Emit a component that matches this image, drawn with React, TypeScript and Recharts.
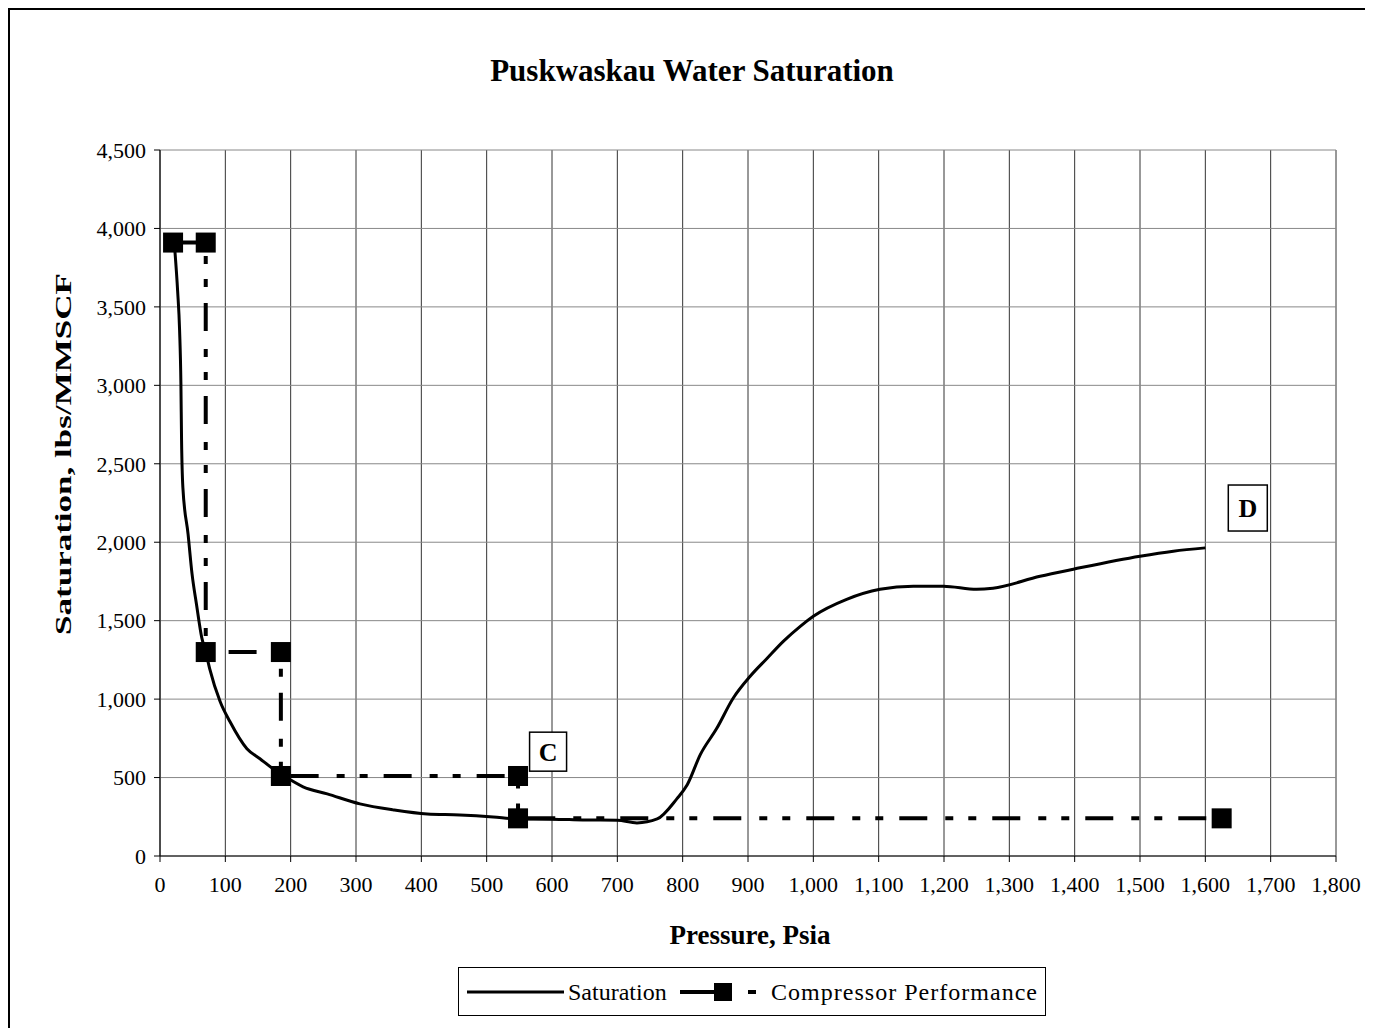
import { CartesianGrid, ComposedChart, Line, ReferenceDot, XAxis, YAxis } from "recharts"

const pressure = [22, 27, 30, 32, 33, 35, 43, 49, 56, 64, 70, 76, 92, 107, 133, 153, 173, 187, 219, 256, 306, 357, 409, 459, 510, 546, 600, 647, 700, 730, 761, 791, 807, 827, 852, 877, 903, 929, 954, 980, 1000, 1051, 1102, 1153, 1199, 1250, 1275, 1347, 1398, 1500, 1551, 1600]
const saturation = [3900, 3600, 3350, 3010, 2650, 2350, 2050, 1800, 1600, 1390, 1300, 1195, 985, 857, 684, 620, 556, 518, 441, 396, 332, 294, 268, 262, 249, 236, 235, 230, 228, 211, 236, 364, 454, 646, 812, 1004, 1144, 1259, 1368, 1464, 1528, 1636, 1700, 1720, 1720, 1700, 1707, 1783, 1828, 1911, 1943, 1964]

const compPressure = [20, 70, 70, 185, 185, 548, 548, 1625]
const compSaturation = [3910, 3910, 1300, 1300, 510, 510, 240, 240]

const xTicks = [0, 100, 200, 300, 400, 500, 600, 700, 800, 900, 1000, 1100, 1200, 1300, 1400, 1500, 1600, 1700, 1800]
const yTicks = [0, 500, 1000, 1500, 2000, 2500, 3000, 3500, 4000, 4500]

const notes = [
    { text: "C", x: 594, y: 665, w: 37, h: 39 },
    { text: "D", x: 1665, y: 2218, w: 39, h: 46 },
]

const satData = pressure.map((x, i) => ({ x, y: saturation[i] }))
const compData = compPressure.map((x, i) => ({ x, y: compSaturation[i] }))

const font = "'Liberation Serif', 'Times New Roman', serif"
const dash = "28 18 8 15 8 16"

const fmt = (v: number) => v.toLocaleString("en-US")

function Square(props: any) {
    const { cx, cy, index } = props
    return <rect key={"sq" + index} x={cx - 10} y={cy - 10} width={20} height={20} fill="#000" />
}

export default function App() {
    return (
        <div style={{ position: "relative", width: 1365, height: 1020, borderLeft: "2px solid #000", borderTop: "2px solid #000", boxSizing: "border-box", fontFamily: font, background: "#fff" }}>
            <div style={{ position: "absolute", left: 0, top: 0 }}>
                <ComposedChart width={1363} height={1018} margin={{ top: 140, right: 37, bottom: 132, left: 70 }}>
                    <CartesianGrid horizontal={false} stroke="#333" strokeWidth={1} />
                    <CartesianGrid vertical={false} stroke="#888" strokeWidth={1} />
                    <XAxis dataKey="x" type="number" domain={[0, 1800]} ticks={xTicks} tickFormatter={fmt}
                        height={40} tickSize={6} tickMargin={14} axisLine={{ stroke: "#000" }} tickLine={{ stroke: "#000" }}
                        tick={{ fill: "#000", fontSize: 22, fontFamily: font }} allowDataOverflow />
                    <YAxis type="number" domain={[0, 4500]} ticks={yTicks} tickFormatter={fmt}
                        width={80} tickSize={6} tickMargin={8} axisLine={{ stroke: "#000" }} tickLine={{ stroke: "#000" }}
                        tick={{ fill: "#000", fontSize: 22, fontFamily: font }} allowDataOverflow />
                    <Line data={satData} dataKey="y" type="monotone" stroke="#000" strokeWidth={3} dot={false} isAnimationActive={false} />
                    <Line data={compData} dataKey="y" type="linear" stroke="#000" strokeWidth={4} strokeDasharray={dash}
                        dot={<Square />} activeDot={false} isAnimationActive={false} />
                    {notes.map((n) => (
                        <ReferenceDot key={n.text} x={n.x} y={n.y} r={1} ifOverflow="visible"
                            shape={(p: any) => (
                                <g>
                                    <rect x={p.cx - n.w / 2} y={p.cy - n.h / 2} width={n.w} height={n.h} fill="#fff" stroke="#000" strokeWidth={1.5} />
                                    <text x={p.cx} y={p.cy + 9} textAnchor="middle" fontSize={26} fontWeight="bold" fontFamily={font} fill="#000">{n.text}</text>
                                </g>
                            )} />
                    ))}
                </ComposedChart>
            </div>
            <svg width={1363} height={1018} style={{ position: "absolute", left: 0, top: 0, pointerEvents: "none" }} fontFamily={font}>
                <text x={682} y={71} textAnchor="middle" fontSize={31} fontWeight="bold">Puskwaskau Water Saturation</text>
                <text x={740} y={934} textAnchor="middle" fontSize={27} fontWeight="bold">Pressure, Psia</text>
                <text transform="translate(61,444) rotate(-90)" textAnchor="middle" fontSize={24} fontWeight="bold" textLength={362} lengthAdjust="spacingAndGlyphs">Saturation, lbs/MMSCF</text>
                <g transform="translate(448,957)">
                    <rect x={0.5} y={0.5} width={587} height={48} fill="#fff" stroke="#000" strokeWidth={1} />
                    <line x1={9} y1={25} x2={106} y2={25} stroke="#000" strokeWidth={3} />
                    <text x={110} y={33} fontSize={24}>Saturation</text>
                    <line x1={222} y1={25} x2={258} y2={25} stroke="#000" strokeWidth={4} />
                    <rect x={256} y={16} width={18} height={18} fill="#000" />
                    <line x1={290} y1={25} x2={298} y2={25} stroke="#000" strokeWidth={4} />
                    <text x={313} y={33} fontSize={24} textLength={266} lengthAdjust="spacing">Compressor Performance</text>
                </g>
            </svg>
        </div>
    )
}
